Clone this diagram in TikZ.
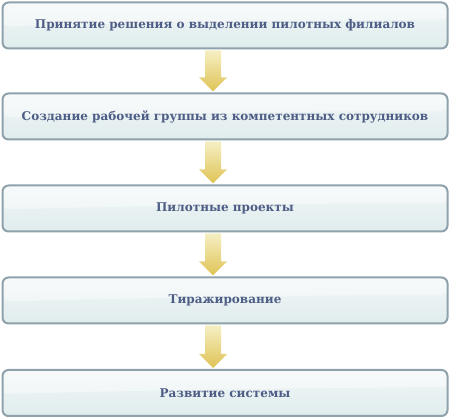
\documentclass[tikz,border=0pt]{standalone}
\usepackage{fontspec}
\setmainfont{DejaVu Serif}
\usetikzlibrary{calc}
\definecolor{boxline}{HTML}{8FA2AC}
\definecolor{boxtop}{HTML}{F1F7F7}
\definecolor{boxbot}{HTML}{E0ECEC}
\definecolor{txt}{HTML}{4E5D85}
\definecolor{arrtop}{HTML}{F6EFC4}
\definecolor{arrbot}{HTML}{DEC354}
\tikzset{
  stepbox/.style={draw=boxline, line width=2pt, rounded corners=6pt,
    top color=boxtop, bottom color=boxbot, minimum width=445pt, minimum height=46pt,
    inner sep=0pt, font=\bfseries\fontsize{12}{14}\selectfont, text=txt,
    path picture={\fill[white,opacity=0.4]
      ([yshift=2pt]path picture bounding box.north west) --
      ([yshift=-24pt]path picture bounding box.north west) .. controls
      ([xshift=150pt,yshift=-20pt]path picture bounding box.north west) and
      ([xshift=-150pt,yshift=-18pt]path picture bounding box.north east) ..
      ([yshift=-17pt]path picture bounding box.north east) --
      ([yshift=2pt]path picture bounding box.north east) -- cycle;}},
  flowarrow/.style={draw=none, top color=arrtop, bottom color=arrbot}
}
\begin{document}
\begin{tikzpicture}[x=1pt,y=-1pt]
\useasboundingbox (0,0) rectangle (450,419);
\foreach \n/\y/\t in {b1/25.5/{Принятие решения о выделении пилотных филиалов},
  b2/116.5/{Создание рабочей группы из компетентных сотрудников},
  b3/208.5/{Пилотные проекты},
  b4/300.5/{Тиражирование},
  b5/393/{Развитие системы}}{
  \node[stepbox] (\n) at (225,\y) {\raisebox{-2pt}{\t}};
}
\foreach \a/\b in {b1/b2,b2/b3,b3/b4,b4/b5}{
  \path[flowarrow] ($(\a.south)+(-20,1)$) -- ($(\a.south)+(-4,1)$)
    -- ($(\b.north)+(-4,-15)$) -- ($(\b.north)+(2,-15)$)
    -- ($(\b.north)+(-12,-1)$) -- ($(\b.north)+(-26,-15)$)
    -- ($(\b.north)+(-20,-15)$) -- cycle;
}
\end{tikzpicture}
\end{document}
